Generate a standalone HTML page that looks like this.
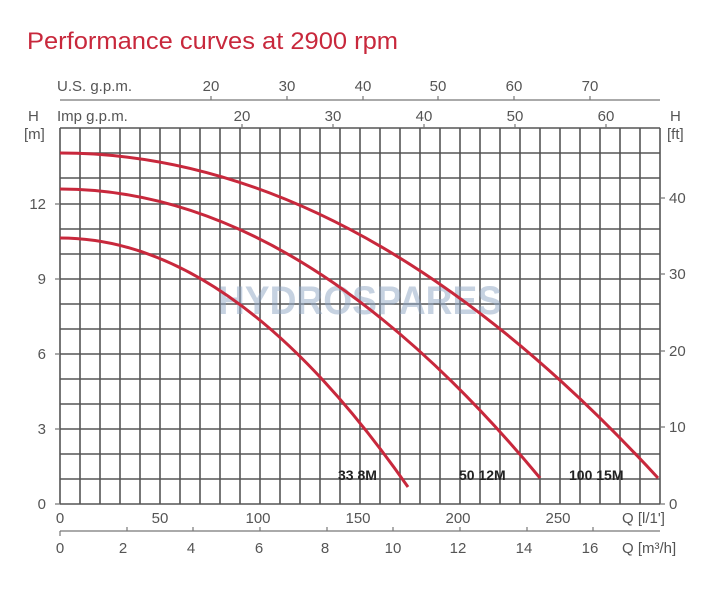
<!DOCTYPE html>
<html><head><meta charset="utf-8"><style>
body{margin:0;background:#fff;width:720px;height:600px;overflow:hidden}
svg text{font-family:"Liberation Sans",sans-serif}
</style></head><body>
<svg width="720" height="600" viewBox="0 0 720 600" xmlns="http://www.w3.org/2000/svg">
<text x="27" y="49" font-size="24" fill="#c8283c" textLength="371" lengthAdjust="spacingAndGlyphs">Performance curves at 2900 rpm</text>
<g stroke="#555" stroke-width="1.6" fill="none">
<path d="M60 128V504M80 128V504M100 128V504M120 128V504M140 128V504M160 128V504M180 128V504M200 128V504M220 128V504M240 128V504M260 128V504M280 128V504M300 128V504M320 128V504M340 128V504M360 128V504M380 128V504M400 128V504M420 128V504M440 128V504M460 128V504M480 128V504M500 128V504M520 128V504M540 128V504M560 128V504M580 128V504M600 128V504M620 128V504M640 128V504M660 128V504"/>
<path d="M60 128H660M60 153H660M60 178H660M60 204H660M60 229H660M60 254H660M60 279H660M60 304H660M60 329H660M60 354H660M60 379H660M60 404H660M60 429H660M60 454H660M60 479H660M60 504H660"/>
</g>
<g stroke="#777" stroke-width="1.2">
<path d="M60 100H660M60 531H660"/>
<path d="M211 100v-4M287 100v-4M363 100v-4M438 100v-4M514 100v-4M590 100v-4"/>
<path d="M242 128v-4M333 128v-4M424 128v-4M515 128v-4M606 128v-4"/>
<path d="M660 427h5M660 351h5M660 274h5M660 198h5M660 504h5"/>
<path d="M55 504h5M55 429h5M55 354h5M55 279h5M55 204h5"/>
<path d="M60 531v5M127 531v-4M193 531v-4M260 531v-4M327 531v-4M393 531v-4M460 531v-4M527 531v-4M593 531v-4"/>
</g>
<text x="218" y="314" font-size="40" font-weight="bold" fill="#8fa6c4" opacity="0.5" textLength="284" lengthAdjust="spacingAndGlyphs">HYDROSPARES</text>
<g stroke="#c8283c" stroke-width="3" fill="none">
<path d="M60 238Q234 238 408 487"/>
<path d="M60 189Q300 189 540 478"/>
<path d="M60 153Q359 153 658 478"/>
</g>
<g font-size="15" fill="#555">
<text x="57" y="91">U.S. g.p.m.</text>
<text x="57" y="121">Imp g.p.m.</text>
<text x="28" y="121">H</text>
<text x="24" y="139">[m]</text>
<text x="670" y="121">H</text>
<text x="667" y="139">[ft]</text>
<g text-anchor="middle">
<text x="211" y="91">20</text><text x="287" y="91">30</text><text x="363" y="91">40</text><text x="438" y="91">50</text><text x="514" y="91">60</text><text x="590" y="91">70</text>
<text x="242" y="121">20</text><text x="333" y="121">30</text><text x="424" y="121">40</text><text x="515" y="121">50</text><text x="606" y="121">60</text>
<text x="60" y="523">0</text><text x="160" y="523">50</text><text x="258" y="523">100</text><text x="358" y="523">150</text><text x="458" y="523">200</text><text x="558" y="523">250</text>
<text x="60" y="553">0</text><text x="123" y="553">2</text><text x="191" y="553">4</text><text x="259" y="553">6</text><text x="325" y="553">8</text><text x="393" y="553">10</text><text x="458" y="553">12</text><text x="524" y="553">14</text><text x="590" y="553">16</text>
</g>
<g text-anchor="end">
<text x="46" y="509">0</text><text x="46" y="434">3</text><text x="46" y="359">6</text><text x="46" y="284">9</text><text x="46" y="209">12</text>
</g>
<text x="669" y="509">0</text><text x="669" y="432">10</text><text x="669" y="356">20</text><text x="669" y="279">30</text><text x="669" y="203">40</text>
<text x="622" y="523">Q [l/1']</text>
<text x="622" y="553">Q [m³/h]</text>
</g>
<g font-size="14" font-weight="bold" fill="#222">
<text x="338" y="480">33 8M</text>
<text x="459" y="480">50 12M</text>
<text x="569" y="480">100 15M</text>
</g>
</svg>
</body></html>
